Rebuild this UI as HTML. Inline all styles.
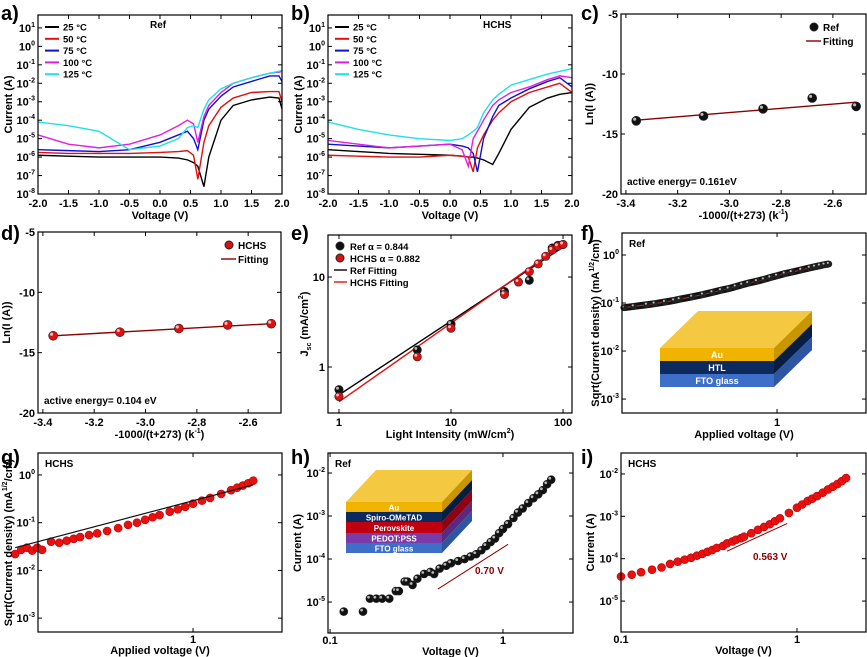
<!DOCTYPE html>
<html><head><meta charset="utf-8"><style>
body{margin:0;background:#fff}
svg{display:block;font-family:"Liberation Sans",sans-serif;font-weight:bold}
</style></head><body>
<svg id="fig" width="867" height="657" viewBox="0 0 867 657" xmlns="http://www.w3.org/2000/svg"></svg>
<script>
// ---------- data ----------
const ivV = [-2,-1.5,-1,-0.5,0,0.3,0.45,0.55,0.62,0.72,0.8,1.0,1.2,1.5,1.8,1.95,2];
const aBlack = [-5.9,-5.95,-6.0,-6.0,-6.0,-6.05,-6.15,-6.3,-6.5,-7.6,-6.0,-4.0,-3.2,-2.9,-2.75,-2.8,-3.4];
const aRed   = [-5.75,-5.8,-5.8,-5.8,-5.75,-5.7,-5.65,-5.9,-7.2,-5.2,-4.3,-3.3,-2.8,-2.5,-2.45,-2.45,-3.0];
const aBlue  = [-5.6,-5.65,-5.7,-5.6,-5.2,-4.8,-4.6,-5.0,-5.6,-4.0,-3.4,-2.7,-2.2,-1.9,-1.6,-1.6,-1.9];
const aMag   = [-4.8,-5.3,-5.5,-5.3,-4.8,-4.3,-4.0,-4.2,-5.2,-3.8,-3.2,-2.5,-2.0,-1.7,-1.45,-1.4,-1.35];
const aCyan  = [-4.1,-4.3,-4.6,-5.6,-5.4,-5.0,-4.4,-4.3,-4.4,-3.4,-2.9,-2.3,-2.0,-1.7,-1.45,-1.35,-1.3];
const bV = [-2,-1.5,-1,-0.5,0,0.2,0.3,0.38,0.45,0.55,0.7,0.8,1.0,1.3,1.6,1.8,2];
const bBlack = [-5.6,-5.7,-5.8,-5.85,-5.9,-5.95,-6.0,-6.0,-6.05,-6.15,-6.4,-5.8,-4.5,-3.3,-2.8,-2.6,-2.5];
const bRed   = [-5.9,-5.95,-6.0,-6.0,-5.9,-5.95,-6.0,-6.8,-5.5,-4.8,-4.0,-3.6,-3.0,-2.5,-2.2,-2.0,-2.5];
const bBlue  = [-5.3,-5.4,-5.5,-5.4,-5.3,-5.4,-5.5,-5.8,-6.8,-5.0,-3.8,-3.2,-2.8,-2.3,-1.9,-1.7,-2.2];
const bMag   = [-5.1,-5.3,-5.5,-5.4,-5.3,-5.6,-6.5,-5.0,-4.6,-4.0,-3.2,-2.9,-2.5,-2.2,-1.8,-1.6,-1.7];
const bCyan  = [-4.1,-4.5,-4.8,-5.0,-5.1,-5.0,-4.8,-4.6,-4.4,-3.6,-2.9,-2.6,-2.1,-1.8,-1.5,-1.35,-1.2];
const arrX = [-3.36,-3.1,-2.87,-2.68,-2.51];
const cRef = [-13.9,-13.5,-12.9,-12.0,-12.7];
const cFit = [-13.85,-12.35];
const dHCHS = [-13.6,-13.3,-13.0,-12.7,-12.6];
const dFit = [-13.6,-12.6];
const eRefX = [1,5,10,30,50,80,90,100];
const eRefY = [0.56,1.55,3.0,6.9,9.2,21,22.5,23];
const eHX = [1,5,10,30,40,50,60,70,80,90,100];
const eHY = [0.47,1.3,2.7,6.4,8.8,11.5,14,17,20,22,23];
const eRefFit = [0.49,21.5];
const eHFit = [0.41,23];
const fV = [0.15,0.17,0.2,0.22,0.25,0.28,0.3,0.35,0.4,0.45,0.5,0.55,0.6,0.65,0.7,0.78,0.85,0.92,1.0,1.1,1.2,1.35,1.5,1.6,1.7,1.8,1.9];
const fJ = [0.08,0.085,0.092,0.097,0.105,0.113,0.12,0.135,0.15,0.167,0.185,0.2,0.22,0.24,0.26,0.285,0.31,0.34,0.37,0.41,0.44,0.49,0.54,0.57,0.6,0.63,0.65];
const gV = [0.15,0.16,0.17,0.18,0.19,0.2,0.22,0.24,0.26,0.28,0.3,0.33,0.36,0.4,0.45,0.5,0.55,0.6,0.65,0.7,0.78,0.85,0.92,1.0,1.1,1.2,1.35,1.5,1.6,1.7,1.8,1.9];
const gJ = [0.022,0.027,0.03,0.026,0.03,0.027,0.04,0.038,0.042,0.046,0.05,0.055,0.06,0.067,0.077,0.09,0.1,0.115,0.13,0.145,0.17,0.19,0.215,0.25,0.29,0.33,0.4,0.48,0.54,0.6,0.67,0.76];
const gFitV = [0.15,1.9];
const gFitJ = [0.03,0.62];
const hV = [0.12,0.155,0.17,0.185,0.2,0.22,0.24,0.25,0.27,0.28,0.3,0.32,0.35,0.38,0.4,0.43,0.47,0.5,0.55,0.6,0.65,0.7,0.75,0.8,0.85,0.9,0.95,1.0,1.07,1.15,1.22,1.3,1.4,1.5,1.6,1.7,1.8,1.9];
const hI = [6e-6,6e-6,1.2e-5,1.2e-5,1.2e-5,1.2e-5,1.8e-5,1.8e-5,3e-5,3e-5,2.5e-5,3.5e-5,4.5e-5,5e-5,4.5e-5,6e-5,7e-5,8e-5,9e-5,1e-4,1.15e-4,1.3e-4,1.6e-4,2e-4,2.5e-4,3e-4,4e-4,5e-4,6.5e-4,9e-4,1.2e-3,1.5e-3,2e-3,2.6e-3,3.2e-3,4e-3,5.5e-3,7e-3];
const hTanV = [0.42,1.07];
const hTanI = [2e-5,2.2e-4];
const iV = [0.1,0.115,0.13,0.15,0.17,0.19,0.21,0.23,0.25,0.27,0.29,0.31,0.33,0.35,0.38,0.4,0.43,0.45,0.48,0.5,0.55,0.6,0.65,0.7,0.75,0.8,0.9,1.0,1.07,1.15,1.22,1.3,1.4,1.5,1.6,1.7,1.8,1.9];
const iI = [3.8e-5,4.2e-5,4.8e-5,5.5e-5,6.2e-5,7.5e-5,8.5e-5,9.5e-5,1.05e-4,1.18e-4,1.3e-4,1.45e-4,1.6e-4,1.8e-4,2e-4,2.3e-4,2.55e-4,2.8e-4,3.05e-4,3.3e-4,4e-4,4.8e-4,5.6e-4,6.5e-4,7.7e-4,9e-4,1.2e-3,1.6e-3,1.9e-3,2.3e-3,2.6e-3,3e-3,3.6e-3,4.3e-3,5e-3,5.8e-3,6.8e-3,8e-3];
const iTanV = [0.4,0.88];
const iTanI = [1.5e-4,6.8e-4];

// ---------- helpers ----------
const NS="http://www.w3.org/2000/svg", svg=document.getElementById('fig');
function el(tag,attrs,parent,txt){const e=document.createElementNS(NS,tag);for(const k in attrs)e.setAttribute(k,attrs[k]);if(txt!==undefined)e.textContent=txt;(parent||svg).appendChild(e);return e;}
function mkAxis(b,x0,x1,y0,y1,xlog,ylog){
  const sx=v=>b[0]+((xlog?Math.log10(v):v)-x0)/(x1-x0)*(b[2]-b[0]);
  const sy=v=>b[3]-((ylog?Math.log10(v):v)-y0)/(y1-y0)*(b[3]-b[1]);
  return {sx,sy,b};
}
function frame(g,ax,xt,yt,off){
  const b=ax.b;off=off||13;
  const r=el('rect',{x:b[0],y:b[1],width:b[2]-b[0],height:b[3]-b[1],fill:'none',stroke:'#000','stroke-width':1.2},g);
  
  xt.forEach(t=>{const x=ax.sx(t.v);
    el('line',{x1:x,x2:x,y1:b[3],y2:b[3]-4,stroke:'#000'},g);el('line',{x1:x,x2:x,y1:b[1],y2:b[1]+4,stroke:'#000'},g);
    const tx=el('text',{x:x,y:b[3]+off,'text-anchor':'middle','font-size':11},g,t.l);
    });
  yt.forEach(t=>{const y=ax.sy(t.v);
    el('line',{x1:b[0],x2:b[0]+4,y1:y,y2:y,stroke:'#000'},g);el('line',{x1:b[2],x2:b[2]-4,y1:y,y2:y,stroke:'#000'},g);
    const tx=el('text',{x:b[0]-3,y:y+4,'text-anchor':'end','font-size':11},g);
    if(t.p!==undefined){tx.textContent='10';el('tspan',{dy:-5,'font-size':7},tx,t.p);}else tx.textContent=t.l;
    });
}
function titles(g,ax,xl,yl,yx,off){
  const b=ax.b;off=off||25;
  const t1=el('text',{x:(b[0]+b[2])/2,y:b[3]+off,'text-anchor':'middle','font-size':11},g);t1.innerHTML=xl;
  
  const cy=(b[1]+b[3])/2;
  const t2=el('text',{x:yx,y:cy,'text-anchor':'middle','font-size':11,transform:`rotate(-90 ${yx} ${cy})`},g);t2.innerHTML=yl;
  
}
function line(g,ax,xs,ys,col,w,name){
  const p=el('polyline',{points:xs.map((x,i)=>ax.sx(x)+','+ax.sy(ys[i])).join(' '),fill:'none',stroke:col,'stroke-width':w||1.3},g);
  return p;
}
function dots(g,ax,xs,ys,col,r,name){
  xs.forEach((x,i)=>{const c=el('circle',{cx:ax.sx(x),cy:ax.sy(ys[i]),r:r||4,fill:col,stroke:'#222','stroke-width':0.6},g);
    
    el('circle',{cx:ax.sx(x)-r*0.35,cy:ax.sy(ys[i])-r*0.35,r:r*0.35,fill:'#fff',opacity:0.7},g);});
}
function redDots(g,ax,xs,ys,r){
  xs.forEach((v,i)=>{const c=el('circle',{cx:ax.sx(v),cy:ax.sy(ys[i]),r:r,fill:'#e81010',stroke:'#b00','stroke-width':0.6},g);});
}
function letter(x,y,t){const e=el('text',{x:x,y:y,'font-size':20},svg,t);}
function txt(g,x,y,s,t,col,name,anchor){const e=el('text',{x:x,y:y,'font-size':s,fill:col||'#000','text-anchor':anchor||'start'},g);e.innerHTML=t;return e;}
function pow(a){return a.map(v=>Math.pow(10,v));}
function group(name){const g=el('g',{},svg);return g;}
const logT=(ps)=>ps.map(p=>({v:Math.pow(10,p),p:String(p)}));

// ---------- a, b ----------
const cols=['#000','#e01010','#1010d0','#e020e0','#20e0e8'];
const temps=['25 °C','50 °C','75 °C','100 °C','125 °C'];
function ivPanel(name,b,V,series,lab){
  const g=group(name);
  const ax=mkAxis(b,-2,2,-8,1.7,false,true);
  series.forEach((s,i)=>line(g,ax,V,pow(s),cols[i],1.4,'iv-curve-'+temps[i].split(' ')[0]+'C'));
  frame(g,ax,[-2,-1.5,-1,-0.5,0,0.5,1,1.5,2].map(v=>({v,l:v.toFixed(1)})),logT([1,0,-1,-2,-3,-4,-5,-6,-7,-8]));
  titles(g,ax,'Voltage (V)','Current (A)',b[0]-26);
  temps.forEach((t,i)=>{const y=b[1]+12+i*11.8;
    const l=el('line',{x1:b[0]+7,x2:b[0]+21,y1:y,y2:y,stroke:cols[i],'stroke-width':2},g);
    txt(g,b[0]+25,y+3.5,9.5,t,'#000','legend-entry');});
  txt(g,b[0]+(lab==='Ref'?112:155),b[1]+13,10,lab,'#000','panel-title');
}
ivPanel('panel-a',[38,15,282,194],ivV,[aBlack,aRed,aBlue,aMag,aCyan],'Ref');
ivPanel('panel-b',[328,15,572,194],bV,[bBlack,bRed,bBlue,bMag,bCyan],'HCHS');
letter(1,20,'a)');letter(291,20,'b)');

// ---------- c, d ----------
function arrPanel(name,b,ys,fit,col,lab,note){
  const g=group(name);
  const ax=mkAxis(b,-3.419,-2.472,-20,-5,false,false);
  line(g,ax,[arrX[0],arrX[4]],fit,'#8b0000',1.4,'fitting-line');
  dots(g,ax,arrX,ys,col,4.5,'data-point');
  frame(g,ax,[-3.4,-3.2,-3.0,-2.8,-2.6].map(v=>({v,l:v.toFixed(1)})),[-5,-10,-15,-20].map(v=>({v,l:String(v)})));
  titles(g,ax,'-1000/(t+273) (k<tspan dy="-5" font-size="7">-1</tspan><tspan dy="5">)</tspan>','Ln(I (A))',b[0]-28);
  const c=el('circle',{cx:b[2]-52,cy:b[1]+13,r:4,fill:col,stroke:'#222'},g);
  txt(g,b[2]-43,b[1]+17,10,lab,'#000','legend-entry');
  el('line',{x1:b[2]-60,x2:b[2]-45,y1:b[1]+27,y2:b[1]+27,stroke:'#8b0000','stroke-width':1.4},g);
  txt(g,b[2]-43,b[1]+31,10,'Fitting','#000','legend-entry');
  txt(g,b[0]+6,b[3]-9,10,note,'#000','annotation');
}
arrPanel('panel-c',[621,14,866,194],cRef,cFit,'#111','Ref','active energy= 0.161eV');
arrPanel('panel-d',[38,232,281,413],dHCHS,dFit,'#e01010','HCHS','active energy= 0.104 eV');
letter(581,20,'c)');letter(1,240,'d)');

// ---------- e ----------
(function(){
  const b=[328,235,572,413];const g=group('panel-e');
  const ax=mkAxis(b,-0.098,2.08,-0.511,1.467,true,true);
  line(g,ax,[1,100],eRefFit,'#000',1.4,'ref-fitting-line');
  line(g,ax,[1,100],eHFit,'#e01010',1.4,'hchs-fitting-line');
  dots(g,ax,eRefX,eRefY,'#111',4.2,'ref-point');
  dots(g,ax,eHX,eHY,'#e01010',4.2,'hchs-point');
  frame(g,ax,[{v:1,l:'1'},{v:10,l:'10'},{v:100,l:'100'}],[{v:1,l:'1'},{v:10,l:'10'}]);
  titles(g,ax,'Light Intensity (mW/cm<tspan dy="-5" font-size="7">2</tspan><tspan dy="5">)</tspan>','J<tspan dy="3" font-size="7">sc</tspan><tspan dy="-3"> (mA/cm</tspan><tspan dy="-5" font-size="7">2</tspan><tspan dy="5">)</tspan>',b[0]-20);
  const L=[['#111','Ref α = 0.844'],['#e01010','HCHS α = 0.882']];
  L.forEach((l,i)=>{el('circle',{cx:b[0]+12,cy:b[1]+11+i*12,r:4,fill:l[0],stroke:'#222'},g);txt(g,b[0]+22,b[1]+15+i*12,9.5,l[1],'#000','legend-entry');});
  [['#000','Ref Fitting'],['#e01010','HCHS Fitting']].forEach((l,i)=>{el('line',{x1:b[0]+6,x2:b[0]+19,y1:b[1]+35+i*12,y2:b[1]+35+i*12,stroke:l[0],'stroke-width':1.4},g);txt(g,b[0]+22,b[1]+39+i*12,9.5,l[1],'#000','legend-entry');});
})();
letter(291,240,'e)');

// ---------- stacks ----------
function stack(g,x,y,w,dx,dy,layers,name){
  const sg=el('g',{},g);
  let yy=y;
  el('polygon',{points:`${x},${y} ${x+dx},${y-dy} ${x+w+dx},${y-dy} ${x+w},${y}`,fill:'#f5c842'},sg);
  layers.forEach(l=>{
    el('rect',{x:x,y:yy,width:w,height:l.h,fill:l.c},sg);
    el('polygon',{points:`${x+w},${yy} ${x+w+dx},${yy-dy} ${x+w+dx},${yy-dy+l.h} ${x+w},${yy+l.h}`,fill:l.s},sg);
    const t=el('text',{x:x+w/2,y:yy+l.h/2+3.5,'text-anchor':'middle','font-size':l.f||9,fill:'#fff'},sg,l.t);
    
    yy+=l.h;});
}

// ---------- f ----------
(function(){
  const b=[622,233,866,413];const g=group('panel-f');
  const ax=mkAxis(b,-0.833,0.478,-3.29,0.458,true,true);
  line(g,ax,fV,fJ,'#111',7,'jv-curve');
  line(g,ax,fV,fJ,'#c03030',1,'fit-line');
  dots(g,ax,fV,fJ,'#222',3,'data-point');
  frame(g,ax,[{v:1,l:'1'}],logT([0,-1,-2,-3]));
  titles(g,ax,'Applied voltage (V)','Sqrt(Current density) (mA<tspan dy="-5" font-size="7">1/2</tspan><tspan dy="5">/cm)</tspan>',b[0]-23);
  txt(g,b[0]+7,b[1]+14,10,'Ref','#000','panel-title');
  stack(g,660,348,114,38,37,[{h:13,c:'#f0b400',s:'#c99600',t:'Au'},{h:13,c:'#0c2a5e',s:'#081d42',t:'HTL'},{h:13,c:'#3d6fc8',s:'#2d55a0',t:'FTO glass'}],'device-stack');
})();
letter(581,240,'f)');

// ---------- g ----------
(function(){
  const b=[38,453,282,632];const g=group('panel-g');
  const ax=mkAxis(b,-0.718,0.412,-3.29,0.46,true,true);
  redDots(g,ax,gV,gJ,4);
  line(g,ax,gFitV,gFitJ,'#111',1.2,'fit-line');
  frame(g,ax,[{v:1,l:'1'}],logT([0,-1,-2,-3]),11);
  titles(g,ax,'Applied voltage (V)','Sqrt(Current density) (mA<tspan dy="-5" font-size="7">1/2</tspan><tspan dy="5">/cm)</tspan>',b[0]-26,22);
  txt(g,b[0]+7,b[1]+14,10,'HCHS','#000','panel-title');
})();
letter(1,464,'g)');

// ---------- h ----------
(function(){
  const b=[328,453,573,633];const g=group('panel-h');
  const ax=mkAxis(b,-1.012,0.405,-5.72,-1.535,true,true);
  stack(g,346,502,96,30,32,[{h:10,c:'#f0b400',s:'#c99600',t:'Au',f:8},{h:10,c:'#0c2a5e',s:'#081d42',t:'Spiro-OMeTAD',f:8},{h:11,c:'#c00010',s:'#900010',t:'Perovskite',f:8},{h:10,c:'#7a3aa8',s:'#5a2a80',t:'PEDOT:PSS',f:8},{h:10,c:'#3d6fc8',s:'#2d55a0',t:'FTO glass',f:8}],'device-stack');
  dots(g,ax,hV,hI,'#111',4,'data-point');
  line(g,ax,hTanV,hTanI,'#8b0000',1,'tangent-line');
  frame(g,ax,[{v:0.1,l:'0.1'},{v:1,l:'1'}],logT([-2,-3,-4,-5]),11);
  titles(g,ax,'Voltage (V)','Current (A)',b[0]-27,22);
  txt(g,b[0]+7,b[1]+14,10,'Ref','#000','panel-title');
  txt(g,475,574,10,'0.70 V','#8b0000','threshold-label');
})();
letter(291,464,'h)');

// ---------- i ----------
(function(){
  const b=[621,453,866,632];const g=group('panel-i');
  const ax=mkAxis(b,-1,0.392,-5.73,-1.506,true,true);
  redDots(g,ax,iV,iI,4);
  line(g,ax,iTanV,iTanI,'#8b0000',1,'tangent-line');
  frame(g,ax,[{v:0.1,l:'0.1'},{v:1,l:'1'}],logT([-2,-3,-4,-5]),11);
  titles(g,ax,'Voltage (V)','Current (A)',b[0]-27,22);
  txt(g,b[0]+7,b[1]+14,10,'HCHS','#000','panel-title');
  txt(g,753,560,10,'0.563 V','#8b0000','threshold-label');
})();
letter(581,464,'i)');
</script>
</body></html>
